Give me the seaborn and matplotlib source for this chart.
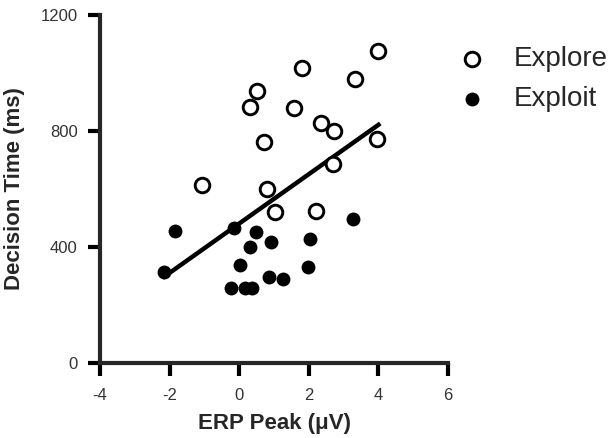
import matplotlib
matplotlib.use("Agg")
import matplotlib.pyplot as plt
import numpy as np
import pandas as pd
import seaborn as sns

# values
explore_x = [4.00, 1.80, 3.33, 0.51, 0.32, 1.58, 2.35, 2.73, 0.72, 3.96,
             2.69, -1.06, 0.80, 1.03, 2.21]
explore_y = [1077, 1017, 979, 939, 884, 879, 829, 800, 761, 774,
             686, 614, 599, 522, 524]
exploit_x = [-1.84, -2.15, -0.16, 0.48, 0.30, 0.92, 2.04, 3.28, 0.03, 1.97,
             0.86, 1.27, -0.24, 0.17, 0.38]
exploit_y = [456, 313, 467, 453, 401, 417, 428, 497, 337, 330,
             298, 291, 258, 258, 258]
x_ticks = [-4, -2, 0, 2, 4, 6]
y_ticks = [0, 400, 800, 1200]

df = pd.DataFrame({
    "erp": explore_x + exploit_x,
    "time": explore_y + exploit_y,
    "cond": ["Explore"] * len(explore_x) + ["Exploit"] * len(exploit_x),
})

sns.set_style("ticks")
plt.rcParams["font.family"] = ["Liberation Sans", "DejaVu Sans"]
plt.rcParams["axes.unicode_minus"] = False

fig = plt.figure(figsize=(6.13, 4.38), dpi=100)
ax = fig.add_axes([0.163, 0.171, 0.568, 0.795])

# regression line over all points
sns.regplot(data=df, x="erp", y="time", scatter=False, ci=None, truncate=True,
            color="black", line_kws={"lw": 3.2, "solid_capstyle": "projecting"},
            ax=ax)

sns.scatterplot(data=df[df.cond == "Explore"], x="erp", y="time", ax=ax,
                marker="o", s=110, facecolor="white", edgecolor="black",
                linewidth=2.1, label="Explore", zorder=3)
sns.scatterplot(data=df[df.cond == "Exploit"], x="erp", y="time", ax=ax,
                marker="o", s=100, color="black", edgecolor="black",
                linewidth=0, label="Exploit", zorder=3)

ax.set_xlim(-4, 6)
ax.set_ylim(0, 1200)
ax.set_xticks(x_ticks)
ax.set_yticks(y_ticks)
sns.despine(ax=ax)
for sp in ["left", "bottom"]:
    ax.spines[sp].set_linewidth(3)
    ax.spines[sp].set_capstyle("projecting")
ax.tick_params(axis="both", width=3, length=9, labelsize=12,
               labelcolor="#333333", color="black")
ax.tick_params(axis="x", pad=9)
ax.tick_params(axis="y", pad=7)

ax.set_xlabel("ERP Peak (\u03bcV)", fontsize=16, fontweight="bold")
ax.set_ylabel("Decision Time (ms)", fontsize=16, fontweight="bold")
ax.xaxis.set_label_coords(0.5, -0.143)
ax.yaxis.set_label_coords(-0.215, 0.5)

leg = ax.legend(loc="upper left", bbox_to_anchor=(0.747, 0.894),
                bbox_transform=fig.transFigure, frameon=False, fontsize=20,
                handlelength=1.0, handletextpad=1.0, labelspacing=0.5,
                borderpad=0, borderaxespad=0)

fig.savefig("out.png", dpi=100)
